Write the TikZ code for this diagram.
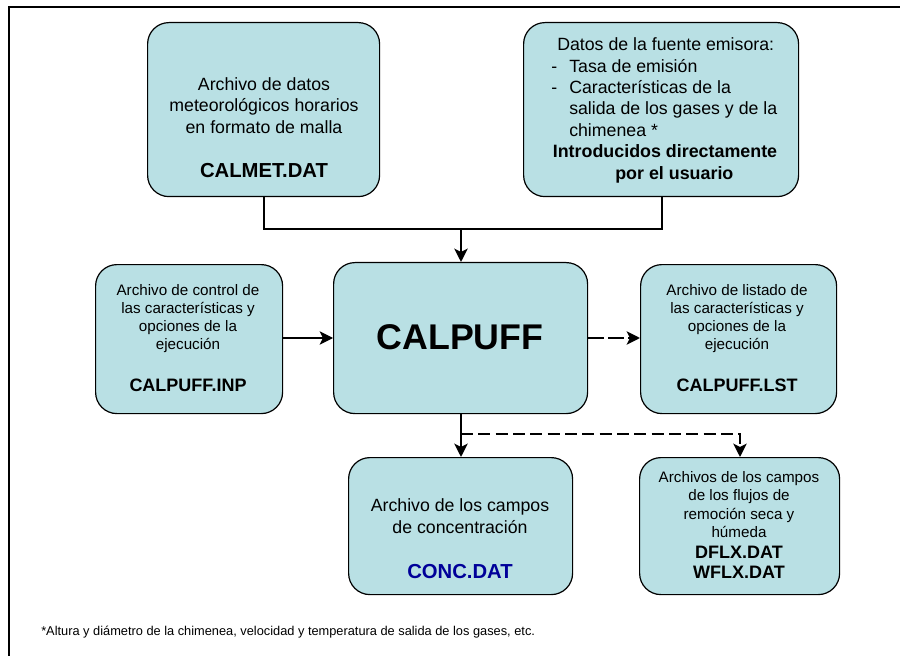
\documentclass[tikz,border=0pt]{standalone}
\usepackage{fontspec}
\setmainfont{Liberation Sans}
\usetikzlibrary{arrows.meta}
\definecolor{boxfill}{RGB}{185,224,228}
\definecolor{concblue}{RGB}{0,0,153}
\tikzset{
 x=0.75pt,y=-0.75pt,
 rbox/.style={draw=black,line width=0.9pt,fill=boxfill,rounded corners=16pt,align=center,inner sep=0pt,anchor=north west},
 link/.style={line width=1pt},
 medium/.style={line width=1.5pt},
 heavy/.style={line width=2pt},
 tip/.style={-{Stealth[length=10pt,width=10pt,inset=2.5pt]}},
 dashy/.style={dash pattern=on 9pt off 4pt},
 longdash/.style={dash pattern=on 12pt off 3pt},
 bodyA/.style={align=center,font=\fontsize{13.3}{16}\selectfont},
 bodyB/.style={align=center,font=\fontsize{11.4}{13.7}\selectfont},
 boldA/.style={align=center,font=\fontsize{15.2}{18}\selectfont\bfseries},
 boldB/.style={align=center,font=\fontsize{13.5}{15}\selectfont\bfseries},
}
\begin{document}
\begin{tikzpicture}
\useasboundingbox (0,0) rectangle (900,656);
\fill[white] (0,0) rectangle (900,656);
\coordinate (fa) at (9,656);
\coordinate (fb) at (9,7);
\coordinate (fc) at (900,7);
\draw[line width=1pt] (fa) -- (fb) -- (fc);
\node[rbox,minimum width=232*0.75pt,minimum height=174*0.75pt] (met) at (147,22) {};
\node[bodyA] (mett) at (264,105.5) {Archivo de datos\\meteorológicos horarios\\en formato de malla};
\node[boldA] (metb) at (264,171) {CALMET.DAT};
\node[rbox,minimum width=275*0.75pt,minimum height=174*0.75pt] (src) at (523,22) {};
\node[anchor=west,align=left,inner sep=0pt,font=\fontsize{13.3}{16}\selectfont] (srct) at (551,87) {\hspace*{4.5pt}Datos de la fuente emisora:\\\makebox[13.5pt][l]{-}Tasa de emisión\\\makebox[13.5pt][l]{-}Características de la\\\hspace*{13.5pt}salida de los gases y de la\\\hspace*{13.5pt}chimenea *};
\node[boldA,font=\fontsize{13.4}{16}\selectfont\bfseries] (srcb) at (665,164) {Introducidos directamente\\\hspace*{14pt}por el usuario};
\node[rbox,minimum width=187*0.75pt,minimum height=149*0.75pt] (inp) at (95,264) {};
\node[bodyB] (inpt) at (188,318.5) {Archivo de control de\\las características y\\opciones de la\\ejecución};
\node[boldB] (inpb) at (188,385) {CALPUFF.INP};
\node[rbox,minimum width=254*0.75pt,minimum height=151*0.75pt] (cal) at (333,262) {};
\node[font=\fontsize{26.8}{30}\selectfont\bfseries] (calt) at (460,337) {CALPUFF};
\node[rbox,minimum width=196*0.75pt,minimum height=149*0.75pt] (lst) at (640,264) {};
\node[bodyB] (lstt) at (737,318.5) {Archivo de listado de\\las características y\\opciones de la\\ejecución};
\node[boldB] (lstb) at (737,385) {CALPUFF.LST};
\node[rbox,minimum width=224*0.75pt,minimum height=137*0.75pt] (conc) at (348,457) {};
\node[bodyA] (conct) at (460,516) {Archivo de los campos\\de concentración};
\node[boldA,text=concblue] (concb) at (460,572) {CONC.DAT};
\node[rbox,minimum width=200*0.75pt,minimum height=137*0.75pt] (flx) at (639,457) {};
\node[bodyB] (flxt) at (739,504.5) {Archivos de los campos\\de los flujos de\\remoción seca y\\húmeda};
\node[boldB] (flxb) at (739,562) {DFLX.DAT\\WFLX.DAT};
\node[anchor=west,inner sep=0pt,font=\fontsize{9.6}{11}\selectfont] (note) at (41,632) {*Altura  y diámetro de la chimenea, velocidad y temperatura de salida de los gases, etc.};
\coordinate (join) at (461,229);
\draw[link] (met.south -| 264,0) |- (join);
\draw[medium] (src.south -| 662,0) |- (join);
\draw[heavy,tip] (join) -- (cal.north -| join);
\draw[link,tip] (inp.east |- 0,338) -- (cal.west |- 0,338);
\draw[heavy,longdash,tip] (cal.east |- 0,338) -- (lst.west |- 0,338);
\draw[heavy,tip] (cal.south -| 461,0) -- (conc.north -| 461,0);
\coordinate (bend) at (461,434);
\draw[heavy,dashy,tip] (bend) -| (flx.north -| 740,0);
\end{tikzpicture}
\end{document}
